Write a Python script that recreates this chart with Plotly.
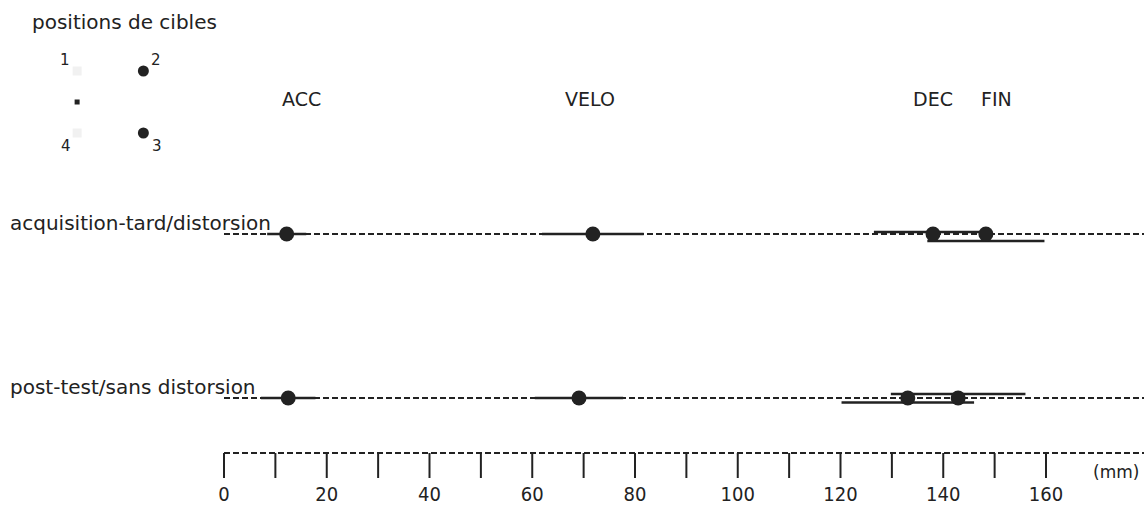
import plotly.graph_objects as go

# ---------------- data ----------------
events = ["ACC", "VELO", "DEC", "FIN"]
conditions = ["acquisition-tard/distorsion", "post-test/sans distorsion"]
acq_mean = [12.2, 71.8, 138.0, 148.3]   # mm
acq_sd = [3.8, 9.9, 11.5, 11.4]
post_mean = [12.5, 69.1, 133.1, 142.9]
post_sd = [5.3, 8.6, 12.9, 13.1]
scale_ticks = list(range(0, 170, 10))
scale_labels = [str(t) if t % 20 == 0 else "" for t in scale_ticks]
scale_unit = "(mm)"
target_ids = ["1", "2", "3", "4"]
target_x = [0, 1, 1, 0]
target_y = [1, 1, -1, -1]
target_active = [False, True, True, False]
inset_title = "positions de cibles"

# ---------------- layout constants ----------------
W, H = 1144, 506
PX_PER_MM = 5.1375
X0_PX = 224
ROW_Y = [234, 398]
BAR_OFFSETS = [[0, 0, -2, 7], [0, 0, 4.5, -4]]
LABEL_Y = 99
LABEL_XSHIFT = [15, -3, 0, 11]
SCALE_Y = 453
TICK_LEN = 25
TICKLABEL_Y = 496
INK = "#222222"
FONT = "DejaVu Sans"
XMAX = (W - X0_PX) / PX_PER_MM

fig = go.Figure()

means = [acq_mean, post_mean]
sds = [acq_sd, post_sd]

for r, yrow in enumerate(ROW_Y):
    # dashed row line
    fig.add_trace(go.Scatter(x=[0, XMAX + 5], y=[yrow, yrow], mode="lines",
                             line=dict(color=INK, width=1.8, dash="6px,3px"),
                             hoverinfo="skip", showlegend=False))
    # variability bars
    for i, ev in enumerate(events):
        m, s = means[r][i], sds[r][i]
        yb = yrow + BAR_OFFSETS[r][i]
        fig.add_trace(go.Scatter(x=[m - s, m + s], y=[yb, yb], mode="lines",
                                 line=dict(color=INK, width=2.4),
                                 hoverinfo="skip", showlegend=False))
    # mean markers
    fig.add_trace(go.Scatter(x=means[r], y=[yrow] * len(events), mode="markers",
                             marker=dict(color=INK, size=15),
                             text=events, name=conditions[r], showlegend=False))

# scale: dashed baseline + ticks
fig.add_trace(go.Scatter(x=[0, XMAX + 5], y=[SCALE_Y, SCALE_Y], mode="lines",
                         line=dict(color=INK, width=1.8, dash="6px,3px"),
                         hoverinfo="skip", showlegend=False))
tx, ty = [], []
for t in scale_ticks:
    tx += [t, t, None]
    ty += [SCALE_Y, SCALE_Y + TICK_LEN, None]
fig.add_trace(go.Scatter(x=tx, y=ty, mode="lines", line=dict(color=INK, width=2),
                         hoverinfo="skip", showlegend=False))
fig.add_trace(go.Scatter(x=scale_ticks, y=[TICKLABEL_Y] * len(scale_ticks), mode="text",
                         text=scale_labels, textposition="middle center",
                         textfont=dict(family="DejaVu Sans Condensed, Liberation Sans Narrow, DejaVu Sans",
                                       size=20, color=INK),
                         hoverinfo="skip", showlegend=False))

# event labels on top
for i, ev in enumerate(events):
    fig.add_annotation(x=acq_mean[i], y=LABEL_Y, xref="x", yref="y", text=ev,
                       showarrow=False, xshift=LABEL_XSHIFT[i],
                       font=dict(family=FONT, size=19, color=INK))

# row labels
for r, cond in enumerate(conditions):
    fig.add_annotation(x=8 / W, y=1 - (ROW_Y[r] - 11) / H, xref="paper", yref="paper",
                       text=cond, showarrow=False, xanchor="left", yanchor="middle",
                       font=dict(family=FONT, size=20, color=INK))

fig.add_annotation(x=1116 / W, y=1 - 472 / H, xref="paper", yref="paper", text=scale_unit,
                   showarrow=False, xanchor="center", yanchor="middle",
                   font=dict(family=FONT, size=17, color=INK))

# ---------------- inset: target positions ----------------
fig.add_trace(go.Scatter(x=[0], y=[0], xaxis="x2", yaxis="y2", mode="markers",
                         marker=dict(symbol="square", size=5, color=INK),
                         hoverinfo="skip", showlegend=False))
act_x = [x for x, a in zip(target_x, target_active) if a]
act_y = [y for y, a in zip(target_y, target_active) if a]
ina_x = [x for x, a in zip(target_x, target_active) if not a]
ina_y = [y for y, a in zip(target_y, target_active) if not a]
fig.add_trace(go.Scatter(x=ina_x, y=ina_y, xaxis="x2", yaxis="y2", mode="markers",
                         marker=dict(symbol="square", size=9, color="#f1f1f1"),
                         hoverinfo="skip", showlegend=False))
fig.add_trace(go.Scatter(x=act_x, y=act_y, xaxis="x2", yaxis="y2", mode="markers",
                         marker=dict(size=11, color=INK),
                         hoverinfo="skip", showlegend=False))
NUM_SHIFT = [(-12, 11), (13, 11), (14, -13), (-11, -13)]
for tid, x, y, (dx, dy) in zip(target_ids, target_x, target_y, NUM_SHIFT):
    fig.add_annotation(x=x, y=y, xref="x2", yref="y2", text=tid, showarrow=False,
                       xshift=dx, yshift=dy, font=dict(family=FONT, size=15, color=INK))
fig.add_annotation(x=30 / W, y=1 - 22 / H, xref="paper", yref="paper", text=inset_title,
                   showarrow=False, xanchor="left", yanchor="middle",
                   font=dict(family=FONT, size=20, color=INK))

fig.update_layout(
    width=W, height=H, autosize=False,
    margin=dict(l=0, r=0, t=0, b=0, pad=0),
    paper_bgcolor="white", plot_bgcolor="white",
    xaxis=dict(range=[-X0_PX / PX_PER_MM, XMAX], domain=[0, 1], visible=False, fixedrange=True),
    yaxis=dict(range=[H, 0], domain=[0, 1], visible=False, fixedrange=True),
    xaxis2=dict(range=[-0.5, 1.5], domain=[44 / W, 176.5 / W], anchor="y2",
                visible=False, fixedrange=True),
    yaxis2=dict(range=[-2, 2], domain=[(H - 164) / H, (H - 40) / H], anchor="x2",
                visible=False, fixedrange=True),
    showlegend=False,
)

fig.write_html(
    "out.html",
    config={"displayModeBar": False},
    post_script="document.body.style.margin='0';document.body.style.overflow='hidden';",
)
